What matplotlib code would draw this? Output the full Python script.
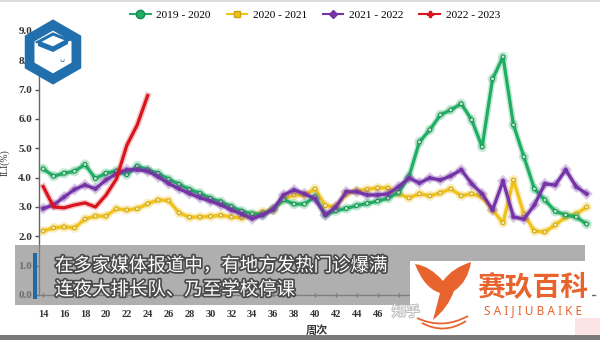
import numpy as np
import matplotlib
matplotlib.use("Agg")
import matplotlib.pyplot as plt
from matplotlib.path import Path
from matplotlib.patches import PathPatch, Rectangle, RegularPolygon, Polygon
from matplotlib.lines import Line2D
import matplotlib.patheffects as pe

# ---------------- data ----------------
week_start = 14
n_weeks = 53
green_2019 = [4.30, 4.05, 4.15, 4.22, 4.45, 3.97, 4.15, 4.23, 4.10, 4.40, 4.27,
              4.15, 3.95, 3.78, 3.60, 3.47, 3.30, 3.18, 3.02, 2.86, 2.77, 2.73, 2.92,
              3.25, 3.10, 3.10, 3.35, 2.73, 2.87, 2.95, 3.05, 3.12, 3.20, 3.30, 3.50,
              4.03, 5.22, 5.63, 6.14, 6.31, 6.52, 5.97, 5.05, 7.37, 8.12, 5.80, 4.71,
              3.62, 3.24, 2.85, 2.73, 2.66, 2.42]
yellow_2020 = [2.18, 2.29, 2.32, 2.29, 2.59, 2.69, 2.69, 2.94, 2.90, 2.94, 3.11,
               3.24, 3.22, 2.80, 2.65, 2.66, 2.68, 2.72, 2.66, 2.63, 2.72, 2.83, 2.90,
               3.28, 3.41, 3.41, 3.62, 3.05, 3.00, 3.45, 3.55, 3.60, 3.65, 3.65, 3.45,
               3.31, 3.45, 3.38, 3.48, 3.62, 3.38, 3.45, 3.34, 2.90, 2.46, 3.92, 2.76,
               2.18, 2.15, 2.39, 2.66, 2.76, 3.00]
purple_2021 = [2.95, 3.07, 3.34, 3.60, 3.75, 3.62, 3.92, 4.13, 4.27, 4.27, 4.22,
               4.03, 3.80, 3.62, 3.46, 3.32, 3.20, 3.07, 2.90, 2.76, 2.60, 2.73, 2.92,
               3.41, 3.58, 3.45, 3.28, 2.73, 3.00, 3.52, 3.52, 3.41, 3.41, 3.45, 3.69,
               3.99, 3.82, 3.99, 3.92, 4.06, 4.27, 3.79, 3.45, 2.90, 3.89, 2.66, 2.59,
               3.07, 3.79, 3.75, 4.27, 3.69, 3.45]
red_2022 = [3.70, 3.00, 2.97, 3.07, 3.14, 3.00, 3.40, 3.95, 5.10, 5.80, 6.80]
series_names = ["2019 - 2020", "2020 - 2021", "2021 - 2022", "2022 - 2023"]
y_ticks = [0, 1, 2, 3, 4, 5, 6, 7, 8, 9]
x_tick_pos = list(range(0, n_weeks, 2))
# labels beyond week 46 are hidden under the watermark / logo in the reference
x_tick_labels = ["14", "16", "18", "20", "22", "24", "26", "28", "30", "32", "34",
                 "36", "38", "40", "42", "44", "46"]
subtitle_lines = ["在多家媒体报道中，有地方发热门诊爆满", "连夜大排长队、乃至学校停课"]

C_GREEN = "#1fae63"
C_YELLOW = "#f2c21b"
C_PURPLE = "#7434a6"
C_RED = "#d8141c"
SERIF = ["Liberation Serif", "DejaVu Serif"]
CJK = ["Noto Sans CJK SC", "DejaVu Sans"]

fig = plt.figure(figsize=(6.0, 3.4), dpi=100)
ax = fig.add_axes([39 / 600, 1 - 295 / 340, (595 - 39) / 600, (295 - 31) / 340])

x = np.arange(n_weeks)
glow = lambda c: [pe.Stroke(linewidth=4.5, foreground=c, alpha=0.25), pe.Normal()]
ax.plot(x, yellow_2020, color=C_YELLOW, lw=2.3, marker="o", ms=2.8, mfc="#f8e9a8",
        mec="#c9a414", mew=0.7, path_effects=glow(C_YELLOW), zorder=2)
ax.plot(x, green_2019, color=C_GREEN, lw=2.3, marker="o", ms=2.8, mfc="#bfe9cf",
        mec="#178a4c", mew=0.7, path_effects=glow(C_GREEN), zorder=3)
ax.plot(x, purple_2021, color=C_PURPLE, lw=2.3, marker="D", ms=1.8, mfc=C_PURPLE,
        mec=C_PURPLE, path_effects=glow(C_PURPLE), zorder=4)
ax.plot(x[:len(red_2022)], red_2022, color=C_RED, lw=2.3,
        path_effects=glow(C_RED), zorder=5)

ax.set_xlim(-0.4, 52.8)
ax.set_ylim(0, 9)
ax.set_yticks(y_ticks)
ax.set_yticklabels([f"{v:.1f}" for v in y_ticks], fontfamily=SERIF, fontsize=8,
                   fontweight="bold", color="#333333")
ax.set_xticks(x_tick_pos)
ax.set_xticklabels(x_tick_labels + [""] * (len(x_tick_pos) - len(x_tick_labels)),
                   fontfamily=SERIF, fontsize=7.5, fontweight="bold", color="#333333")
ax.tick_params(axis="y", length=3, width=1, color="#555555", pad=2)
ax.tick_params(axis="x", length=3, width=1, color="#555555", pad=9, direction="inout")
for s in ["top", "right"]:
    ax.spines[s].set_visible(False)
for s in ["left", "bottom"]:
    ax.spines[s].set_color("#666666")
    ax.spines[s].set_linewidth(1.0)
ax.set_ylabel("ILI(%)", fontfamily=SERIF, fontsize=7, color="#333333", labelpad=6)
ax.set_xlabel("周次", fontfamily=CJK, fontsize=8, fontweight="bold", color="#333333",
              labelpad=4)

# legend
handles = [
    Line2D([], [], color=C_GREEN, lw=1.5, marker="o", ms=6, mfc=C_GREEN, mec="#178a4c"),
    Line2D([], [], color=C_YELLOW, lw=1.5, marker="s", ms=5, mfc=C_YELLOW, mec="#c9a414"),
    Line2D([], [], color=C_PURPLE, lw=1.5, marker="D", ms=4, mfc=C_PURPLE, mec=C_PURPLE),
    Line2D([], [], color=C_RED, lw=1.5, marker="P", ms=5, mfc=C_RED, mec=C_RED),
]
fig.legend(handles, series_names, loc="center", bbox_to_anchor=(315 / 600, 1 - 15 / 340),
           ncol=4, frameon=False, handlelength=1.8, handletextpad=0.5, columnspacing=1.4,
           prop={"family": SERIF, "size": 8.2})

# ---------------- overlays (pixel coordinates) ----------------
ov = fig.add_axes([0, 0, 1, 1], zorder=10)
ov.set_xlim(0, 600)
ov.set_ylim(340, 0)
ov.axis("off")
ov.patch.set_alpha(0)

# top faint line, bottom border
ov.add_patch(Rectangle((0, 0), 600, 2, facecolor="#dddddd", edgecolor="none"))
ov.add_patch(Rectangle((0, 335), 600, 5, facecolor="#7a7a7a", edgecolor="none"))

# grey caption band
ov.add_patch(Rectangle((15, 245), 570, 60, facecolor="#8a8a8a", alpha=0.68,
                       edgecolor="none"))
ov.add_patch(Rectangle((33, 253), 4, 46, facecolor="#1f6aa5", edgecolor="none"))
for i, line in enumerate(subtitle_lines):
    ov.text(55, 266 + i * 24, line, fontfamily=CJK, fontsize=13.3, fontweight="medium",
            color="white", ha="left", va="center",
            path_effects=[pe.withStroke(linewidth=2.5, foreground="#4a4a4a")])

# zhihu watermark
ov.text(392, 312, "知乎", fontfamily=CJK, fontsize=10, color="white", ha="left",
        va="center", alpha=0.95,
        path_effects=[pe.withStroke(linewidth=1.5, foreground="#bbbbbb")])

# logo box
ov.add_patch(Rectangle((410, 261), 182, 69, facecolor="white", edgecolor="none"))
ov.add_patch(Rectangle((575, 318), 25, 17, facecolor="#fbe3e6", edgecolor="none"))
ORANGE = "#e8642f"
verts = [(415, 264), (430, 266), (443, 281),
         (452, 268), (471, 262),
         (468, 282), (454, 291),
         (448, 308), (433, 320),
         (437, 305), (440, 293),
         (424, 288), (415, 264)]
codes = [Path.MOVETO, Path.CURVE3, Path.CURVE3,
         Path.CURVE3, Path.CURVE3,
         Path.CURVE3, Path.CURVE3,
         Path.CURVE3, Path.CURVE3,
         Path.CURVE3, Path.CURVE3,
         Path.CURVE3, Path.CURVE3]
ov.add_patch(PathPatch(Path(verts, codes), facecolor=ORANGE, edgecolor="none"))
for dy, x0, x1 in [(0, 417, 468), (5, 422, 466)]:
    wv = [(x0, 318 + dy), ((x0 + x1) / 2, 330 + dy), (x1, 316 + dy)]
    ov.add_patch(PathPatch(Path(wv, [Path.MOVETO, Path.CURVE3, Path.CURVE3]),
                           facecolor="none", edgecolor=ORANGE, lw=1.3))
ov.text(533, 287, "赛玖百科", fontfamily=CJK, fontsize=20, fontweight="bold",
        color=ORANGE, ha="center", va="center")
ov.text(533, 311, "S A I J I U B A I K E", fontfamily=["Noto Sans", "DejaVu Sans"],
        fontsize=8.5, color=ORANGE, ha="center", va="center")

# hexagon icon
BLUE = "#2170ad"
ov.add_patch(RegularPolygon((53, 52), numVertices=6, radius=27, orientation=0,
                            facecolor="white", edgecolor=BLUE, lw=7))
ov.add_patch(Polygon([(38, 42), (53, 34), (68, 40), (53, 48)], closed=True,
                     facecolor="white", edgecolor=BLUE, lw=2.2))
ov.add_patch(Polygon([(38, 42), (53, 48), (68, 40), (68, 44), (53, 52), (38, 46)],
                     closed=True, facecolor=BLUE, edgecolor="none"))
ov.text(62, 59, "ᴗ", fontsize=6, color=BLUE, ha="center", va="center")

fig.savefig("out.png", dpi=100)
